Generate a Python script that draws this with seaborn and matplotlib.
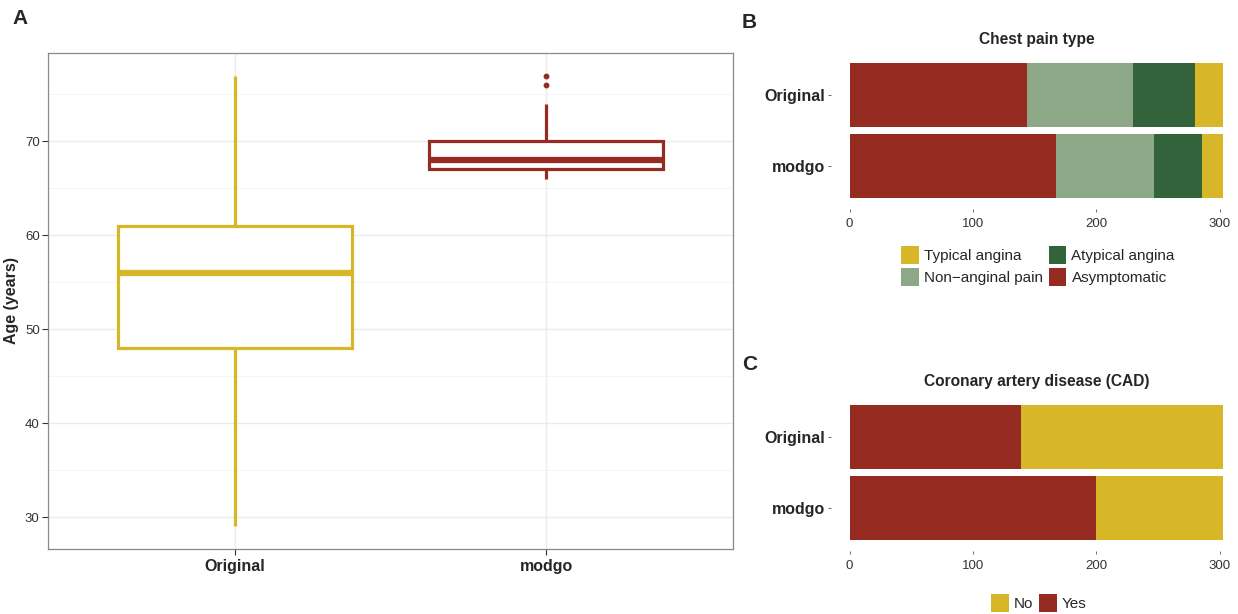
import numpy as np
import pandas as pd
import matplotlib
matplotlib.use("Agg")
import matplotlib.pyplot as plt
from matplotlib.patches import Patch
import seaborn as sns

# ── Data ──────────────────────────────────────────────────
GROUPS     = ["Original", "modgo"]
# small samples whose box stats match the picture (min, Q1, median, Q3, max, outliers)
AGE_ORIG   = [29, 40, 48, 52, 56, 58, 61, 70, 77]
AGE_MODGO  = [66, 66, 67, 67, 67, 68, 68, 69, 70, 70, 74, 76, 77]

CP_LEVELS  = ["Typical angina", "Atypical angina", "Non\u2212anginal pain", "Asymptomatic"]
CP_ORIG    = [23, 50, 86, 144]
CP_MODGO   = [17, 39, 80, 167]

CAD_LEVELS = ["No", "Yes"]
CAD_ORIG   = [164, 139]
CAD_MODGO  = [103, 200]

YELLOW = "#D7B727"
RED    = "#962C21"
SAGE   = "#8DA887"
GREEN  = "#33633A"
CP_COLORS  = {"Typical angina": YELLOW, "Atypical angina": GREEN,
              "Non\u2212anginal pain": SAGE, "Asymptomatic": RED}
CAD_COLORS = {"No": YELLOW, "Yes": RED}

sns.set_style("white")
plt.rcParams["font.family"] = ["Liberation Sans", "DejaVu Sans"]

W, H = 1238, 614
fig = plt.figure(figsize=(W / 100, H / 100), dpi=100)


def box(l, t, r, b):
    return [l / W, (H - b) / H, (r - l) / W, (b - t) / H]


# ── Panel A: age boxplot ──────────────────────────────────
axA = fig.add_axes(box(48, 53, 733, 549))
age_df = pd.DataFrame({
    "group": ["Original"] * len(AGE_ORIG) + ["modgo"] * len(AGE_MODGO),
    "age":   AGE_ORIG + AGE_MODGO,
})
for g, col in zip(GROUPS, [YELLOW, RED]):
    sns.boxplot(data=age_df[age_df.group == g], x="group", y="age", order=GROUPS,
                color="white", linecolor=col, linewidth=2.3, width=0.75,
                saturation=1, showcaps=False,
                medianprops={"linewidth": 4.5, "color": col},
                flierprops={"marker": "o", "markersize": 3.2,
                            "markerfacecolor": col, "markeredgecolor": col},
                ax=axA, zorder=3)
axA.set_xlim(-0.6, 1.6)
axA.set_ylim(26.6, 79.4)
axA.set_yticks([30, 40, 50, 60, 70])
axA.set_yticks([35, 45, 55, 65, 75], minor=True)
axA.set_axisbelow(True)
axA.grid(True, which="major", color="#EBEBEB", linewidth=1.0)
axA.grid(True, which="minor", axis="y", color="#F2F2F2", linewidth=0.6)
for s in axA.spines.values():
    s.set_visible(True)
    s.set_color("#888888")
    s.set_linewidth(0.9)
axA.tick_params(axis="both", which="major", direction="out", length=4,
                color="#333333", width=0.8, left=True, bottom=True)
axA.tick_params(axis="y", which="minor", length=0)
axA.tick_params(axis="y", labelsize=9.5, labelcolor="#333333", pad=2)
axA.tick_params(axis="x", labelsize=11.5, pad=3)
for lab in axA.get_xticklabels():
    lab.set_fontweight("bold")
axA.set_xlabel("")
axA.set_ylabel("Age (years)", fontsize=11.5, fontweight="bold")
axA.yaxis.set_label_coords(-29 / 685, 0.5)


# ── Panels B/C: stacked horizontal bars ───────────────────
def stacked_bars(ax, levels, orig, modgo, colors, title):
    df = pd.DataFrame({"group": GROUPS * len(levels),
                       "level": [lv for lv in levels for _ in GROUPS],
                       "count": [v for pair in zip(orig, modgo) for v in pair]})
    # last level sits at the left (ggplot stacking), so draw cumulative totals
    stack = list(reversed(levels))
    for i in range(len(stack) - 1, -1, -1):
        sub = df[df.level.isin(stack[:i + 1])].groupby("group", sort=False)["count"].sum()
        sns.barplot(x=sub.values, y=list(sub.index), order=GROUPS, orient="h",
                    color=colors[stack[i]], saturation=1, width=0.9,
                    linewidth=0, ax=ax)
    total = max(sum(orig), sum(modgo))
    ax.set_xlim(-0.05 * total, 1.05 * total)
    ax.set_ylim(1.6, -0.6)
    ax.set_xticks([0, 100, 200, 300])
    sns.despine(ax=ax, left=True, bottom=True)
    ax.tick_params(axis="both", length=2.5, color="#555555", width=0.6,
                   left=True, bottom=True, pad=2)
    ax.tick_params(axis="x", labelsize=9.5, labelcolor="#333333", pad=4)
    ax.tick_params(axis="y", labelsize=11.5)
    for lab in ax.get_yticklabels():
        lab.set_fontweight("bold")
    ax.set_xlabel("")
    ax.set_ylabel("")
    ax.set_title(title, fontsize=11.2, fontweight="bold", pad=6)


LEG_KW = dict(frameon=False, fontsize=11, loc="center",
              bbox_transform=fig.transFigure, handlelength=1.15,
              handleheight=1.4, handletextpad=0.33, columnspacing=0.4,
              labelspacing=0.3, borderpad=0)

axB = fig.add_axes(box(831, 52, 1242, 209))
stacked_bars(axB, CP_LEVELS, CP_ORIG, CP_MODGO, CP_COLORS, "Chest pain type")
# ncol=2 fills column-wise -> reorder so rows read like the reference
leg_order = [CP_LEVELS[0], CP_LEVELS[2], CP_LEVELS[1], CP_LEVELS[3]]
axB.legend(handles=[Patch(facecolor=CP_COLORS[k], edgecolor="none") for k in leg_order],
           labels=leg_order, ncol=2,
           bbox_to_anchor=(1038 / W, (H - 266) / H), **LEG_KW)

axC = fig.add_axes(box(831, 394, 1242, 551))
stacked_bars(axC, CAD_LEVELS, CAD_ORIG, CAD_MODGO, CAD_COLORS,
             "Coronary artery disease (CAD)")
axC.legend(handles=[Patch(facecolor=CAD_COLORS[k], edgecolor="none") for k in CAD_LEVELS],
           labels=CAD_LEVELS, ncol=2,
           bbox_to_anchor=(1039 / W, (H - 603) / H), **LEG_KW)

# panel letters
for letter, x, y in [("A", 12, 18), ("B", 742, 22), ("C", 742, 365)]:
    fig.text(x / W, (H - y) / H, letter, fontsize=15, fontweight="bold",
             ha="left", va="center")

fig.savefig("out.png", dpi=100)
